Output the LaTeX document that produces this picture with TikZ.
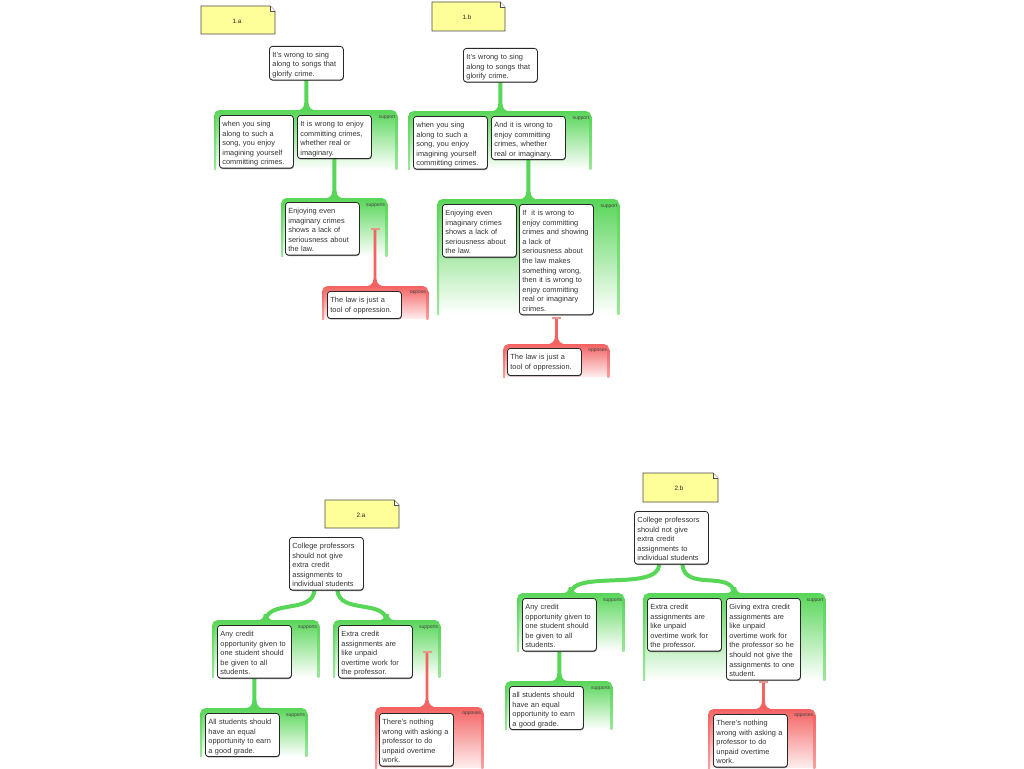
\documentclass[tikz,border=0pt]{standalone}
\usepackage{fontspec}
\setmainfont{Liberation Sans}
\usetikzlibrary{calc,shadows}
\pgfdeclarelayer{grplayer}
\pgfdeclarelayer{connlayer}
\pgfsetlayers{grplayer,connlayer,main}
\definecolor{G}{RGB}{88,214,88}
\definecolor{R}{RGB}{244,98,98}
\definecolor{Bar}{RGB}{232,150,140}
\definecolor{NoteY}{RGB}{255,255,153}
\definecolor{Ink}{RGB}{40,40,40}
\newcommand\topst{\rule{0pt}{9.3pt}}
\newcommand\botst{\rule[-1.6pt]{0pt}{0pt}}
\newcommand\botstb{\rule[-4.8pt]{0pt}{0pt}}
% straight connector with flared foot: #1 colour, #2 top, #3 bottom, #4 half width
\newcommand\myconn[4]{%
  \fill[#1] ($(#2)+(-#4,0)$) -- ($(#3)+(-#4,-8)$)
    .. controls ($(#3)+(-#4,-2)$) and ($(#3)+(-5,0)$) .. ($(#3)+(-10,0.6)$)
    -- ($(#3)+(10,0.6)$)
    .. controls ($(#3)+(5,0)$) and ($(#3)+(#4,-2)$) .. ($(#3)+(#4,-8)$)
    -- ($(#2)+(#4,0)$) -- cycle;}
\newcommand\myfillet[2]{%
  \fill[#1] ($(#2)+(-9,0.6)$) .. controls ($(#2)+(-4,0)$) and ($(#2)+(-2,-2)$) .. ($(#2)+(-2,-6)$)
    -- ($(#2)+(2,-6)$) .. controls ($(#2)+(2,-2)$) and ($(#2)+(4,0)$) .. ($(#2)+(9,0.6)$) -- cycle;}
\newcommand\mysides[2]{%
  \shade[top color=#2, bottom color=#2!60] ([yshift=-5pt]#1.north west) rectangle ([xshift=2pt]#1.south west);
  \shade[top color=#2, bottom color=#2!60] ([yshift=-5pt]#1.north east) rectangle ([xshift=-2pt]#1.south east);}
\newcommand\mybar[1]{\fill[Bar] ($(#1)+(-4.5,-1)$) rectangle ($(#1)+(4.5,1)$);}
\tikzset{
  box/.style={anchor=north west, draw=Ink, line width=0.8pt, fill=white, rounded corners=3pt,
    text width=68pt, inner xsep=3pt, inner ysep=1.7pt, align=left,
    font=\fontsize{7.4}{9.6}\selectfont, text=black!80,
    drop shadow={shadow xshift=0.4pt, shadow yshift=-0.9pt, opacity=0.5, fill=black}},
  grp/.style={anchor=north west, inner sep=0pt, rounded corners=5pt, top color=G, bottom color=white, draw=none},
  rgrp/.style={anchor=north west, inner sep=0pt, rounded corners=5pt, top color=R, bottom color=R!10, draw=none},
  lbl/.style={anchor=north east, inner sep=0pt, font=\fontsize{5}{6}\selectfont, text=black!75},
  notelbl/.style={inner sep=0pt, font=\fontsize{6.3}{7}\selectfont, text=black!85},
  notebox/.style={fill=NoteY, draw=black!70, line width=0.8pt},
  curve/.style={draw=G, line width=4pt}
}
\newcommand\mynote[4]{% x1,y1,x2,y2
  \draw[notebox] (#1,#2) -- (#3-5,#2) -- (#3,#2+5) -- (#3,#4) -- (#1,#4) -- cycle;
  \draw[black!70, line width=0.6pt, fill=white] (#3-5,#2) -- (#3-5,#2+5) -- (#3,#2+5);}
\begin{document}
\begin{tikzpicture}[x=1pt,y=-1pt]
\begin{pgfonlayer}{grplayer}
\fill[white] (0,0) rectangle (1024,768);
\end{pgfonlayer}
\useasboundingbox (0,0) rectangle (1024,768);

% ---------- notes ----------
\mynote{201}{6}{275}{34}
\node[notelbl] (n1a) at (237,21) {1.a};
\mynote{432}{2}{505}{31}
\node[notelbl] (n1b) at (467,17) {1.b};
\mynote{325}{500}{399}{528}
\node[notelbl] (n2a) at (361,515) {2.a};
\mynote{643}{473}{718}{502}
\node[notelbl] (n2b) at (679,488) {2.b};

% ---------- groups ----------
\begin{pgfonlayer}{grplayer}
\node[grp, minimum width=183pt, minimum height=59pt] (g1a) at (214,110) {};
\node[grp, minimum width=106pt, minimum height=58pt] (g1a2) at (281,198) {};
\node[rgrp, minimum width=106pt, minimum height=33pt] (r1a) at (322,286) {};
\node[grp, minimum width=183pt, minimum height=58pt] (g1b) at (408,111) {};
\node[grp, minimum width=182pt, minimum height=115pt] (g1b2) at (437,199) {};
\node[rgrp, minimum width=106pt, minimum height=33pt] (r1b) at (503,344) {};
\node[grp, minimum width=107pt, minimum height=57pt] (g2aL) at (212,620) {};
\node[grp, minimum width=107pt, minimum height=57pt] (g2aR) at (333,620) {};
\node[grp, minimum width=107pt, minimum height=48pt] (g2aLL) at (200,708) {};
\node[rgrp, minimum width=108pt, minimum height=61pt] (r2a) at (375,707) {};
\node[grp, minimum width=107pt, minimum height=58pt] (g2bL) at (517,593) {};
\node[grp, minimum width=182pt, minimum height=87pt] (g2bR) at (643,593) {};
\node[grp, minimum width=107pt, minimum height=48pt] (g2bLL) at (505,681) {};
\node[rgrp, minimum width=107pt, minimum height=59pt] (r2b) at (708,709) {};

\mysides{g1a}{G}\mysides{g1a2}{G}\mysides{g1b}{G}\mysides{g1b2}{G}
\mysides{g2aL}{G}\mysides{g2aR}{G}\mysides{g2aLL}{G}
\mysides{g2bL}{G}\mysides{g2bR}{G}\mysides{g2bLL}{G}
\mysides{r1a}{R}\mysides{r1b}{R}\mysides{r2a}{R}\mysides{r2b}{R}
\end{pgfonlayer}

% group labels
\node[lbl] (l1) at ([xshift=-2pt,yshift=-5pt]g1a.north east) {support};
\node[lbl] (l2) at ([xshift=-2pt,yshift=-5pt]g1a2.north east) {supports};
\node[lbl] (l3) at ([xshift=-2pt,yshift=-5pt]r1a.north east) {oppose};
\node[lbl] (l4) at ([xshift=-2pt,yshift=-5pt]g1b.north east) {support};
\node[lbl] (l5) at ([xshift=-2pt,yshift=-5pt]g1b2.north east) {support};
\node[lbl] (l6) at ([xshift=-2pt,yshift=-5pt]r1b.north east) {opposes};
\node[lbl] (l7) at ([xshift=-2pt,yshift=-5pt]g2aL.north east) {supports};
\node[lbl] (l8) at ([xshift=-2pt,yshift=-5pt]g2aR.north east) {supports};
\node[lbl] (l9) at ([xshift=-2pt,yshift=-5pt]g2aLL.north east) {supports};
\node[lbl] (l10) at ([xshift=-2pt,yshift=-5pt]r2a.north east) {opposes};
\node[lbl] (l11) at ([xshift=-2pt,yshift=-5pt]g2bL.north east) {supports};
\node[lbl] (l12) at ([xshift=-2pt,yshift=-5pt]g2bR.north east) {support};
\node[lbl] (l13) at ([xshift=-2pt,yshift=-5pt]g2bLL.north east) {supports};
\node[lbl] (l14) at ([xshift=-2pt,yshift=-5pt]r2b.north east) {opposes};

% ---------- boxes ----------
\path
 node[box] (c1a) at (269,46) {\topst It's wrong to sing\\along to songs that\\glorify crime.\botst}
 node[box] (p1a1) at (219,115) {\topst when you sing\\along to such a\\song, you enjoy\\imagining yourself\\committing crimes.\botst}
 node[box] (p1a2) at (297,115) {\topst It is wrong to enjoy\\committing crimes,\\whether real or\\imaginary.\botst}
 node[box] (p1a3) at (285,202) {\topst Enjoying even\\imaginary crimes\\shows a lack of\\seriousness about\\the law.\botst}
 node[box] (o1a) at (327,291) {\topst The law is just a\\tool of oppression.\botstb}
 node[box] (c1b) at (463,48) {\topst It's wrong to sing\\along to songs that\\glorify crime.\botst}
 node[box] (p1b1) at (413,116) {\topst when you sing\\along to such a\\song, you enjoy\\imagining yourself\\committing crimes.\botst}
 node[box] (p1b2) at (491,116) {\topst And it is wrong to\\enjoy committing\\crimes, whether\\real or imaginary.\botst}
 node[box] (p1b3) at (442,204) {\topst Enjoying even\\imaginary crimes\\shows a lack of\\seriousness about\\the law.\botst}
 node[box] (p1b4) at (519,204) {\topst If\ \ it is wrong to\\enjoy committing\\crimes and showing\\a lack of\\seriousness about\\the law makes\\something wrong,\\then it is wrong to\\enjoy committing\\real or imaginary\\crimes.\botst}
 node[box] (o1b) at (507,348) {\topst The law is just a\\tool of oppression.\botstb}
 node[box] (c2a) at (289,537) {\topst College professors\\should not give\\extra credit\\assignments to\\individual students\botst}
 node[box] (p2a1) at (217,625) {\topst Any credit\\opportunity given to\\one student should\\be given to all\\students.\botst}
 node[box] (p2a2) at (338,625) {\topst Extra credit\\assignments are\\like unpaid\\overtime work for\\the professor.\botst}
 node[box] (p2a3) at (205,713) {\topst All students should\\have an equal\\opportunity to earn\\a good grade.\botst}
 node[box] (o2a) at (379,713) {\topst There's nothing\\wrong with asking a\\professor to do\\unpaid overtime\\work.\botst}
 node[box] (c2b) at (634,511) {\topst College professors\\should not give\\extra credit\\assignments to\\individual students\botst}
 node[box] (p2b1) at (522,598) {\topst Any credit\\opportunity given to\\one student should\\be given to all\\students.\botst}
 node[box] (p2b2) at (647,598) {\topst Extra credit\\assignments are\\like unpaid\\overtime work for\\the professor.\botst}
 node[box] (p2b3) at (726,598) {\topst Giving extra credit\\assignments are\\like unpaid\\overtime work for\\the professor so he\\should not give the\\assignments to one\\student.\botst}
 node[box] (p2b4) at (509,686) {\topst all students should\\have an equal\\opportunity to earn\\a good grade.\botst}
 node[box] (o2b) at (713,714) {\topst There's nothing\\wrong with asking a\\professor to do\\unpaid overtime\\work.\botst};

% ---------- connectors (behind boxes, above groups) ----------
\begin{pgfonlayer}{connlayer}
\coordinate (t1) at (c1a.south |- g1a.north);
\myconn{G}{c1a.south}{t1}{2}
\coordinate (t2) at (p1a2.south |- g1a2.north);
\myconn{G}{p1a2.south}{t2}{2}
\coordinate (a1a) at (375,229);
\coordinate (t3) at (a1a |- r1a.north);
\myconn{R}{a1a}{t3}{1.4}
\coordinate (t4) at (c1b.south |- g1b.north);
\myconn{G}{c1b.south}{t4}{2}
\coordinate (t5) at (p1b2.south |- g1b2.north);
\myconn{G}{p1b2.south}{t5}{2}
\coordinate (a1b) at ($(p1b4.south)+(0,3)$);
\coordinate (t6) at (a1b |- r1b.north);
\myconn{R}{a1b}{t6}{1.4}
\coordinate (t7) at (p2a1.south |- g2aLL.north);
\myconn{G}{p2a1.south}{t7}{2}
\coordinate (a2a) at (427,652);
\coordinate (t8) at (a2a |- r2a.north);
\myconn{R}{a2a}{t8}{1.4}
\coordinate (t9) at (p2b1.south |- g2bLL.north);
\myconn{G}{p2b1.south}{t9}{2}
\coordinate (a2b) at ($(p2b3.south)+(0,2)$);
\coordinate (t10) at (a2b |- r2b.north);
\myconn{R}{a2b}{t10}{1.4}

\coordinate (s2aL) at ($(c2a.south)+(-12,0)$);
\coordinate (s2aR) at ($(c2a.south)+(11,0)$);
\draw[curve] (s2aL) .. controls ($(s2aL)+(-2,23)$) and ($(g2aL.north)+(3,-20)$) .. (g2aL.north);
\draw[curve] (s2aR) .. controls ($(s2aR)+(2,23)$) and ($(g2aR.north)+(-3,-20)$) .. (g2aR.north);
\myfillet{G}{g2aL.north}
\myfillet{G}{g2aR.north}
\coordinate (s2bL) at ($(c2b.south)+(-12,0)$);
\coordinate (s2bR) at ($(c2b.south)+(11,0)$);
\draw[curve] (s2bL) .. controls ($(s2bL)+(-2,27)$) and ($(g2bL.north)+(3,-23)$) .. (g2bL.north);
\draw[curve] (s2bR) .. controls ($(s2bR)+(2,27)$) and ($(g2bR.north)+(-3,-23)$) .. (g2bR.north);
\myfillet{G}{g2bL.north}
\myfillet{G}{g2bR.north}
\end{pgfonlayer}

\mybar{a1a}\mybar{a1b}\mybar{a2a}\mybar{a2b}
\end{tikzpicture}
\end{document}
